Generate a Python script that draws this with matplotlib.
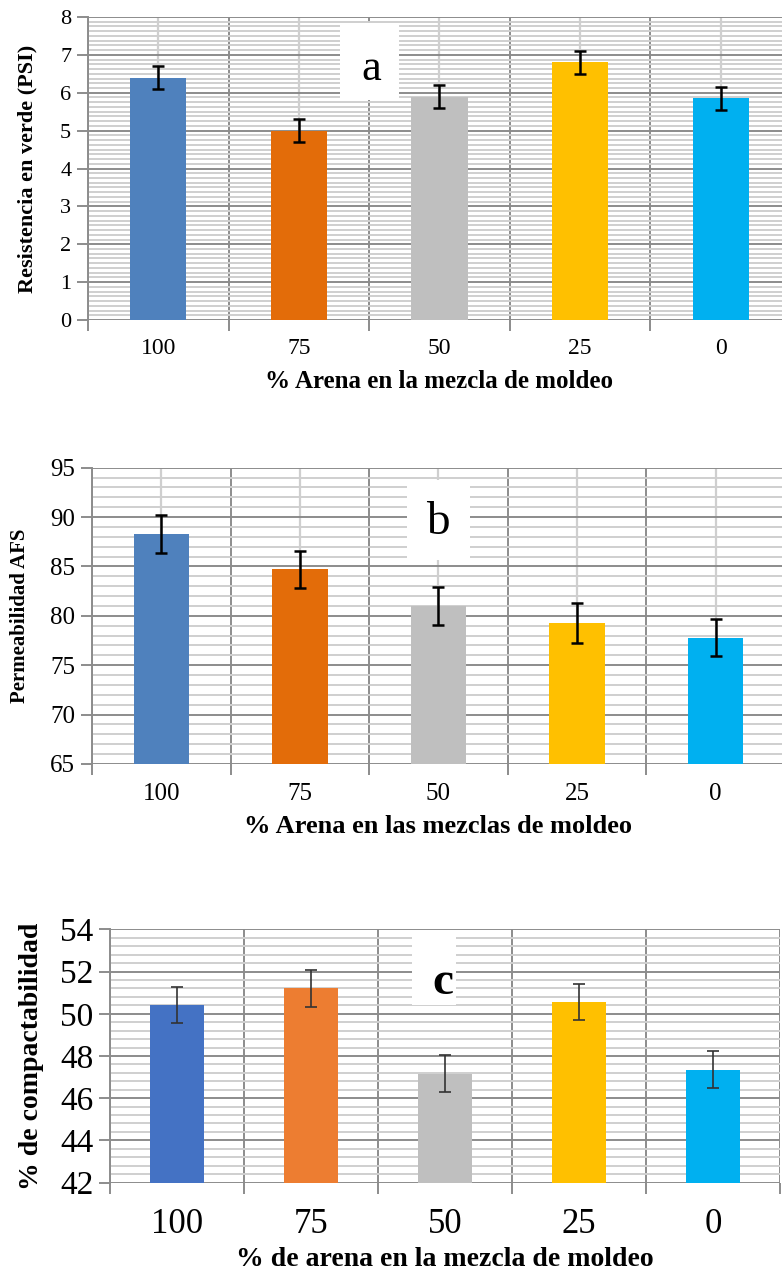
import numpy as np
import matplotlib
matplotlib.use("Agg")
import matplotlib.pyplot as plt
from matplotlib.patches import Rectangle
from matplotlib.ticker import MultipleLocator, FixedLocator, NullFormatter

plt.rcParams["font.family"] = ["Liberation Serif", "DejaVu Serif"]

# % de arena en la mezcla (categorías del eje x)
arena = ["100", "75", "50", "25", "0"]

# (a) resistencia en verde, PSI
resistencia = [6.4, 5.0, 5.9, 6.8, 5.85]
resistencia_err = [0.3, 0.31, 0.3, 0.3, 0.3]

# (b) permeabilidad AFS
permeabilidad = [88.3, 84.7, 81.0, 79.3, 77.8]
permeabilidad_err = [1.9, 1.9, 1.9, 2.0, 1.9]

# (c) % de compactabilidad
compactabilidad = [50.4, 51.2, 47.15, 50.55, 47.35]
compactabilidad_err = [0.85, 0.88, 0.88, 0.85, 0.87]

colores_ab = ["#4F81BD", "#E36C09", "#BFBFBF", "#FFC000", "#00B0F0"]
colores_c = ["#4472C4", "#ED7D31", "#BFBFBF", "#FFC000", "#00B0F0"]

GRIS_MAYOR = "#8C8C8C"
GRIS_MENOR = "#CFCFCF"

fig = plt.figure(figsize=(7.82, 12.78), dpi=100)


def panel(rect, valores, errores, colores, ylim, mayor, menor, ylabel, xlabel,
          letra, caja, pos_letra, fs_tick, fs_xtick, fs_label, fs_xlabel,
          fs_letra, peso_letra="normal", centro=True, lw_err=1.8,
          col_err="black", pad_x=14):
    ax = fig.add_axes(rect)
    x = np.arange(len(valores))
    ax.bar(x, np.array(valores) - ylim[0], bottom=ylim[0], width=0.4,
           color=colores, zorder=3)
    ax.errorbar(x, valores, yerr=errores, fmt="none", ecolor=col_err,
                elinewidth=lw_err, capsize=4, capthick=lw_err, zorder=4)

    ax.set_xlim(-0.5, len(valores) - 0.5)
    ax.set_ylim(*ylim)

    # líneas horizontales: principales y secundarias
    ax.yaxis.set_major_locator(MultipleLocator(mayor))
    ax.yaxis.set_minor_locator(MultipleLocator(menor))
    ax.grid(axis="y", which="major", color=GRIS_MAYOR, lw=1.4, zorder=1)
    ax.grid(axis="y", which="minor", color=GRIS_MENOR, lw=1.4, zorder=0.5)

    # separadores entre categorías y etiquetas en el centro
    ax.xaxis.set_major_locator(FixedLocator(np.arange(-0.5, len(valores), 1)))
    ax.xaxis.set_major_formatter(NullFormatter())
    ax.xaxis.set_minor_locator(FixedLocator(x))
    ax.set_xticklabels(arena, minor=True)
    ax.grid(axis="x", which="major", color=GRIS_MAYOR, lw=1.4, zorder=1)
    if centro:
        ax.grid(axis="x", which="minor", color=GRIS_MENOR, lw=1.6, zorder=0.6)

    ax.tick_params(axis="x", which="major", direction="out", length=8,
                   width=1.4, color=GRIS_MAYOR)
    ax.tick_params(axis="x", which="minor", length=0, labelsize=fs_xtick,
                   pad=pad_x)
    ax.tick_params(axis="y", which="major", direction="out", length=8,
                   width=1.4, color=GRIS_MAYOR, labelsize=fs_tick, pad=4)
    ax.tick_params(axis="y", which="minor", length=0)

    for lado in ["top", "right", "bottom"]:
        ax.spines[lado].set_visible(False)
    ax.spines["left"].set_color(GRIS_MAYOR)
    ax.spines["left"].set_linewidth(1.4)
    ax.set_axisbelow(True)

    ax.set_ylabel(ylabel, fontsize=fs_label, fontweight="bold")
    ax.set_xlabel(xlabel, fontsize=fs_xlabel, fontweight="bold")

    # recuadro blanco con la letra del panel
    ax.add_patch(Rectangle((caja[0], caja[1]), caja[2], caja[3],
                           transform=ax.transAxes, facecolor="white",
                           edgecolor="none", zorder=2))
    ax.text(pos_letra[0], pos_letra[1], letra, transform=ax.transAxes,
            ha="center", va="center", fontsize=fs_letra,
            fontweight=peso_letra, zorder=5)
    return ax


ax_a = panel([0.1125, 0.7496, 0.899, 0.2371], resistencia, resistencia_err,
             colores_ab, (0, 8), 1, 0.125,
             "Resistencia en verde (PSI)", "% Arena en la mezcla de moldeo",
             "a", (0.358, 0.726, 0.085, 0.254), (0.403, 0.83),
             fs_tick=16, fs_xtick=17, fs_label=16, fs_xlabel=18, fs_letra=32,
             pad_x=13)
ax_a.yaxis.set_label_coords(-0.072, 0.5)
ax_a.xaxis.labelpad = 8

ax_b = panel([0.1176, 0.4022, 0.886, 0.2318], permeabilidad, permeabilidad_err,
             colores_ab, (65, 95), 5, 1,
             "Permeabilidad AFS", "% Arena en las mezclas de moldeo",
             "b", (0.4545, 0.6885, 0.091, 0.27), (0.4993, 0.815),
             fs_tick=18, fs_xtick=18, fs_label=15, fs_xlabel=19, fs_letra=34,
             pad_x=14)
ax_b.yaxis.set_label_coords(-0.089, 0.5)
ax_b.xaxis.labelpad = 7

ax_c = panel([0.1407, 0.0747, 0.857, 0.1981], compactabilidad, compactabilidad_err,
             colores_c, (42, 54), 2, 0.4,
             "% de compactabilidad", "% de arena en la mezcla de moldeo",
             "c", (0.451, 0.701, 0.065, 0.277), (0.496, 0.79),
             fs_tick=24, fs_xtick=25, fs_label=20, fs_xlabel=20, fs_letra=34,
             peso_letra="bold", centro=False, lw_err=1.2, col_err="#333333",
             pad_x=18)
ax_c.yaxis.set_label_coords(-0.099, 0.5)
ax_c.xaxis.labelpad = 5

fig.savefig("out.png", dpi=100)
